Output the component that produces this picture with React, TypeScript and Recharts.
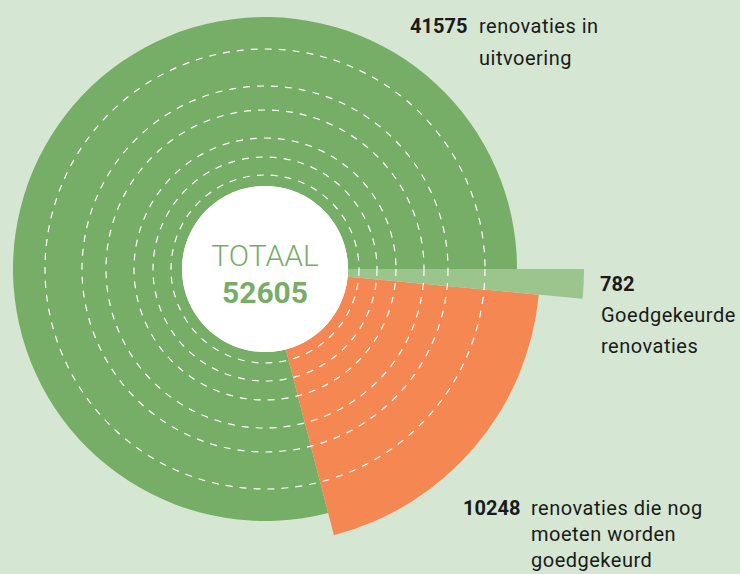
import React from 'react';
import { PieChart, Pie, Cell } from 'recharts';

const categories = ['renovaties in uitvoering', 'renovaties die nog moeten worden goedgekeurd', 'Goedgekeurde renovaties'];
const values = [41575, 10248, 782];
const totalLabel = 'TOTAAL';

const labelLines = [
  ['renovaties in', 'uitvoering'],
  ['renovaties die nog', 'moeten worden', 'goedgekeurd'],
  ['Goedgekeurde', 'renovaties'],
];

const colors = ['#77ae67', '#f58753', '#9cc48d'];
const outerRadii = [252, 275, 319];
const ringRadii = [94, 112, 131, 159, 183, 220];
const BG = '#d5e6d2';
const CX = 265;
const CY = 269;
const HOLE = 83;
const FONT = 'Roboto, "Noto Sans", sans-serif';
const TEXT = '#1a1a1a';

const data = categories.map((name, i) => ({ name, value: values[i] }));
const total = values.reduce((a, b) => a + b, 0);
const centerData = [{ name: totalLabel, value: total }];

function renderOverlay(props: any) {
  const cx = props.cx;
  const cy = props.cy;
  return (
    <g key="overlay">
      {ringRadii.map((r) => (
        <circle key={r} cx={cx} cy={cy} r={r} fill="none" stroke="#ffffff" strokeWidth={1.2} strokeDasharray="7 7" />
      ))}
      <circle cx={cx} cy={cy} r={HOLE} fill="#ffffff" />
      <text x={cx} y={cy - 3} textAnchor="middle" fontFamily={FONT} fontSize={30} fontWeight={300} fill={colors[0]}>
        {totalLabel}
      </text>
      <text x={cx} y={cy + 34} textAnchor="middle" fontFamily={FONT} fontSize={30} fontWeight={700} fill={colors[0]}>
        {total}
      </text>

      <text x={410} y={33} fontFamily={FONT} fontSize={20} fontWeight={700} fill={TEXT}>{values[0]}</text>
      {labelLines[0].map((l, i) => (
        <text key={l} x={479} y={33 + i * 32} fontFamily={FONT} fontSize={20} letterSpacing={0.5} fill={TEXT}>{l}</text>
      ))}

      <text x={600} y={291} fontFamily={FONT} fontSize={20} fontWeight={700} fill={TEXT}>{values[2]}</text>
      {labelLines[2].map((l, i) => (
        <text key={l} x={601} y={322 + i * 31} fontFamily={FONT} fontSize={20} letterSpacing={0.5} fill={TEXT}>{l}</text>
      ))}

      <text x={463} y={515} fontFamily={FONT} fontSize={20} fontWeight={700} fill={TEXT}>{values[1]}</text>
      {labelLines[1].map((l, i) => (
        <text key={l} x={531} y={515 + i * 26} fontFamily={FONT} fontSize={20} letterSpacing={0.5} fill={TEXT}>{l}</text>
      ))}
    </g>
  );
}

export default function App() {
  return (
    <div style={{ position: 'absolute', left: 0, top: 0, width: 740, height: 574, background: BG, overflow: 'hidden' }}>
      <PieChart width={740} height={574} margin={{ top: 0, right: 0, bottom: 0, left: 0 }} accessibilityLayer={false}>
        {outerRadii.map((r, k) => (
          <Pie
            key={k}
            data={data}
            dataKey="value"
            nameKey="name"
            cx={CX}
            cy={CY}
            innerRadius={HOLE - 2}
            outerRadius={r}
            startAngle={0}
            endAngle={360}
            stroke="none"
            isAnimationActive={false}
          >
            {data.map((d, i) => (
              <Cell key={d.name} fill={i === k ? colors[i] : 'transparent'} />
            ))}
          </Pie>
        ))}
        <Pie
          data={centerData}
          dataKey="value"
          nameKey="name"
          cx={CX}
          cy={CY}
          innerRadius={0}
          outerRadius={HOLE}
          startAngle={0}
          endAngle={360}
          fill="#ffffff"
          stroke="none"
          label={renderOverlay}
          labelLine={false}
          isAnimationActive={false}
        />
      </PieChart>
    </div>
  );
}
